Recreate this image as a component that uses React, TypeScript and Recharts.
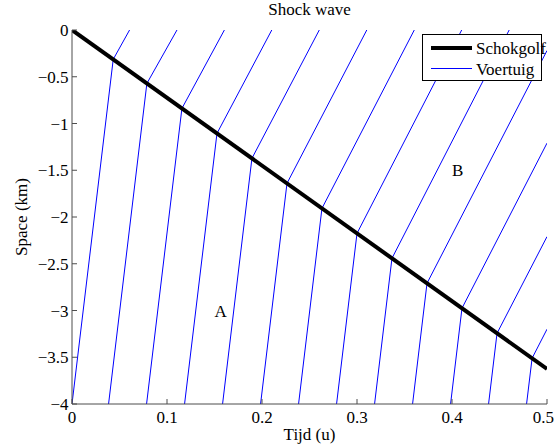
import React from 'react';
import {
  LineChart,
  Line,
  XAxis,
  YAxis,
  Legend,
  ReferenceDot,
} from 'recharts';

// vehicle trajectories: entry at y=-4, meeting the shock, leaving the plot
const startT = [0, 0.0385, 0.0785, 0.1185, 0.1585, 0.1985, 0.2385, 0.2785, 0.3185, 0.3585, 0.3985, 0.4385, 0.4785];
const startY = [-4, -4, -4, -4, -4, -4, -4, -4, -4, -4, -4, -4, -4];
const crossT = [0.0434, 0.0788, 0.1157, 0.1526, 0.1894, 0.2263, 0.2631, 0.3, 0.3368, 0.3737, 0.4105, 0.4474, 0.4843];
const crossY = [-0.314, -0.572, -0.839, -1.106, -1.373, -1.64, -1.908, -2.175, -2.442, -2.709, -2.976, -3.244, -3.511];
const endT = [0.0606, 0.1105, 0.1604, 0.2103, 0.2603, 0.3103, 0.3603, 0.4102, 0.4602, 0.5, 0.5, 0.5, 0.5];
const endY = [0, 0, 0, 0, 0, 0, 0, 0, 0, -0.22, -1.21, -2.21, -3.2];

// shock wave
const shockT = [0, 0.5];
const shockY = [0, -3.625];

const xTicks = [0, 0.1, 0.2, 0.3, 0.4, 0.5];
const yTicks = [-4, -3.5, -3, -2.5, -2, -1.5, -1, -0.5, 0];

const legendNames = ['Schokgolf', 'Voertuig'];
const legendColors = ['#000000', '#0000ff'];
const legendWidths = [4, 1];

const regionNames = ['A', 'B'];
const regionT = [0.15, 0.4];
const regionY = [-3, -1.5];

const FONT = "'Liberation Serif', 'Times New Roman', serif";
const AXIS = '#4d4d4d';

const vehicles = startT.map((t0, i) => [
  { t: t0, y: startY[i] },
  { t: crossT[i], y: crossY[i] },
  { t: endT[i], y: endY[i] },
]);
const shock = shockT.map((t, i) => ({ t, y: shockY[i] }));

const fmtY = (v: number) => (v < 0 ? '\u2212' + Math.abs(v) : String(v));

const tickStyle = { fill: '#000', fontFamily: FONT, fontSize: 17, style: { fontFamily: FONT } };

const LegendBox = () => (
  <div
    style={{
      position: 'relative',
      width: 120,
      height: 47,
      border: '1px solid #000',
      background: '#fff',
      boxSizing: 'border-box',
      fontFamily: FONT,
      fontSize: 17,
      lineHeight: '17px',
    }}
  >
    {legendNames.map((name, i) => (
      <React.Fragment key={name}>
        <div
          style={{
            position: 'absolute',
            left: 8,
            width: 41,
            top: 12.5 + i * 20.5 - legendWidths[i] / 2,
            height: legendWidths[i],
            background: legendColors[i],
          }}
        />
        <span
          style={{
            position: 'absolute',
            left: 53,
            top: 5 + i * 20.5,
            whiteSpace: 'nowrap',
            color: '#000',
          }}
        >
          {name}
        </span>
      </React.Fragment>
    ))}
  </div>
);

const YTitle = (props: any) => {
  const vb = props.viewBox || { x: 0, y: 30, width: 72, height: 374 };
  const cx = vb.x + 27;
  const cy = vb.y + vb.height / 2;
  return (
    <text
      x={cx}
      y={cy}
      transform={`rotate(-90 ${cx} ${cy})`}
      textAnchor="middle"
      fontFamily={FONT}
      style={{ fontFamily: FONT }}
      fontSize={17}
      fill="#000"
    >
      Space (km)
    </text>
  );
};

const App: React.FC = () => {
  return (
    <div style={{ position: 'absolute', left: 0, top: 0, width: 554, height: 448, fontFamily: FONT }}>
      <div
        style={{
          position: 'absolute',
          left: 72,
          width: 475,
          top: 1,
          textAlign: 'center',
          fontFamily: FONT,
          fontSize: 17,
          lineHeight: '18px',
          color: '#000',
          zIndex: 2,
        }}
      >
        Shock wave
      </div>
      <LineChart
        width={554}
        height={448}
        margin={{ top: 30, right: 7, left: 0, bottom: 0 }}
        style={{ fontFamily: FONT }}
      >
        <XAxis
          type="number"
          dataKey="t"
          domain={[0, 0.5]}
          ticks={xTicks}
          allowDataOverflow
          height={44}
          stroke={AXIS}
          tickSize={-5}
          tickMargin={11.5}
          tick={tickStyle}
          label={{ value: 'Tijd (u)', position: 'insideBottom', offset: 8, fill: '#000', fontFamily: FONT, fontSize: 17 }}
        />
        <YAxis
          type="number"
          dataKey="y"
          domain={[-4, 0]}
          ticks={yTicks}
          allowDataOverflow
          width={72}
          stroke={AXIS}
          tickSize={-5}
          tickMargin={8.5}
          tickFormatter={fmtY}
          tick={tickStyle}
          label={{ content: YTitle }}
        />
        <Legend
          content={() => <LegendBox />}
          layout="horizontal"
          verticalAlign="middle"
          align="center"
          wrapperStyle={{ position: 'absolute', left: 422, top: 34, width: 120, height: 47 }}
        />
        {vehicles.map((pts, i) => (
          <Line
            key={'v' + i}
            data={pts}
            dataKey="y"
            type="linear"
            stroke="#0000ff"
            strokeWidth={1}
            dot={false}
            activeDot={false}
            legendType="none"
            isAnimationActive={false}
          />
        ))}
        <Line
          data={shock}
          dataKey="y"
          type="linear"
          stroke="#000"
          strokeWidth={4}
          dot={false}
          activeDot={false}
          isAnimationActive={false}
        />
        {regionNames.map((name, i) => (
          <ReferenceDot
            key={name}
            x={regionT[i]}
            y={regionY[i]}
            r={0}
            fill="none"
            stroke="none"
            label={{ value: name, position: 'right', offset: 0, fill: '#000', fontFamily: FONT, fontSize: 17 }}
          />
        ))}
      </LineChart>
    </div>
  );
};

export default App;
